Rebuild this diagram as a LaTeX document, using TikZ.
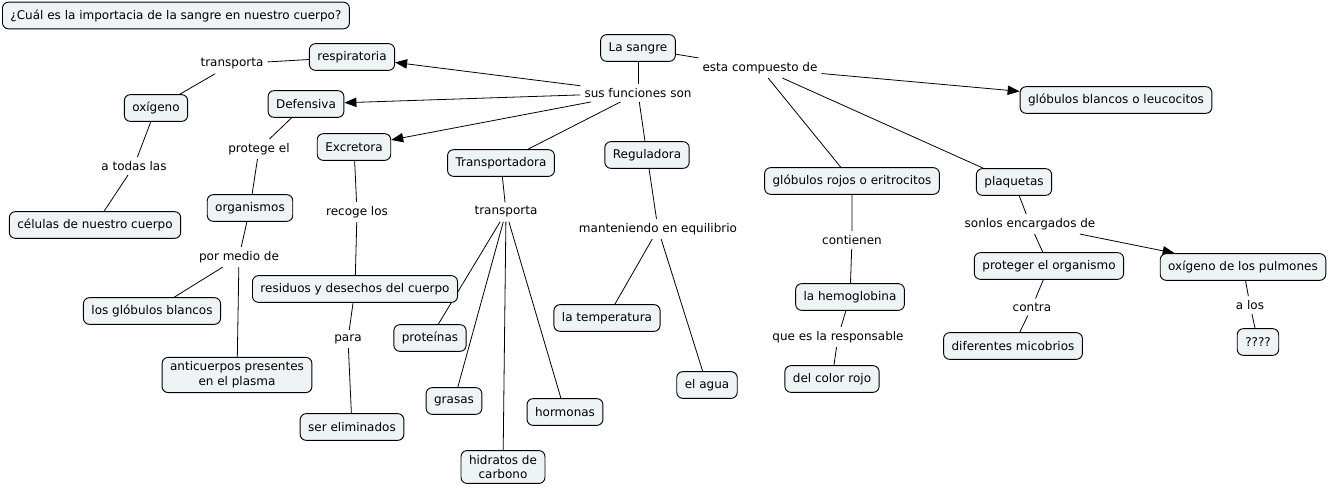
\documentclass[tikz,border=0pt]{standalone}
\usepackage{fontspec}
\setmainfont{DejaVu Sans}
\usetikzlibrary{arrows.meta,backgrounds}
\definecolor{cmapfill}{RGB}{238,244,246}
\begin{document}
\begin{tikzpicture}[x=0.75pt,y=-0.75pt, font=\fontsize{9}{11}\selectfont, line join=round, line cap=round]
	\tikzset{concept/.style={draw, fill=cmapfill, rounded corners=4.5pt, line width=0.7pt, minimum height=20pt, inner xsep=6pt, align=center},
		linking/.style={inner sep=3pt},
		link/.style={line width=0.6pt},
		tip/.style={link,-{Triangle[length=9pt,width=7pt]}}}
	\useasboundingbox (0,0) rectangle (1329,490);
	% concepts
	\node[concept, anchor=west] (pregunta) at (2,15.5) {¿Cuál es la importacia de la sangre en nuestro cuerpo?};
	\node[concept] (sangre) at (638,48) {La sangre};
	\node[concept] (resp) at (352,57) {respiratoria};
	\node[concept] (defen) at (306,104) {Defensiva};
	\node[concept] (excre) at (354,147) {Excretora};
	\node[concept] (transp) at (501,163) {Transportadora};
	\node[concept] (regul) at (647,155) {Reguladora};
	\node[concept] (oxig) at (156,108) {oxígeno};
	\node[concept] (celulas) at (95,225) {células de nuestro cuerpo};
	\node[concept] (organ) at (250,208) {organismos};
	\node[concept] (globlan) at (152,311) {los glóbulos blancos};
	\node[concept] (anticu) at (237,375) {anticuerpos presentes\\en el plasma};
	\node[concept] (residuos) at (355,289) {residuos y desechos del cuerpo};
	\node[concept] (elimin) at (352,427) {ser eliminados};
	\node[concept] (prot) at (430,338) {proteínas};
	\node[concept] (grasas) at (454,401) {grasas};
	\node[concept] (hidrat) at (503,467) {hidratos de\\carbono};
	\node[concept] (hormon) at (565,412) {hormonas};
	\node[concept] (temp) at (607,318) {la temperatura};
	\node[concept] (agua) at (707,385) {el agua};
	\node[concept] (leuco) at (1116,100) {glóbulos blancos o leucocitos};
	\node[concept] (eritro) at (852,181) {glóbulos rojos o eritrocitos};
	\node[concept] (plaq) at (1014,182) {plaquetas};
	\node[concept] (hemo) at (850,297) {la hemoglobina};
	\node[concept] (rojo) at (832,379) {del color rojo};
	\node[concept] (proteger) at (1049,266) {proteger el organismo};
	\node[concept] (pulmon) at (1243,267) {oxígeno de los pulmones};
	\node[concept] (microb) at (1013,346) {diferentes micobrios};
	\node[concept] (interrog) at (1258,342) {????};
	% linking phrases
	\node[linking] (funciones) at (638,93) {sus funciones son};
	\node[linking] (compuesto) at (760,68) {esta compuesto de};
	\node[linking] (transporta) at (232,64) {transporta};
	\node[linking] (todas) at (134,166) {a todas las};
	\node[linking] (protege) at (259,149) {protege el};
	\node[linking] (medio) at (239,257) {por medio de};
	\node[linking] (recoge) at (357,212) {recoge los};
	\node[linking] (para) at (348,339) {para};
	\node[linking] (transporta2) at (506,212) {transporta};
	\node[linking] (mantiene) at (658,229) {manteniendo en equilibrio};
	\node[linking] (contienen) at (852,240) {contienen};
	\node[linking] (responsable) at (838,337) {que es la responsable};
	\node[linking] (encargados) at (1030,224) {sonlos encargados de};
	\node[linking] (contra) at (1032,307) {contra};
	\node[linking] (alos) at (1250,305) {a los};
	% connectors
	\begin{pgfonlayer}{background}
		\draw[link] (sangre) -- (funciones);
		\draw[tip] (funciones) -- (resp);
		\draw[tip] (funciones) -- (defen);
		\draw[tip] (funciones) -- (excre);
		\draw[link] (funciones) -- (transp);
		\draw[link] (funciones) -- (regul);
		\draw[link] (sangre) -- (compuesto);
		\draw[tip] (compuesto) -- (leuco);
		\draw[link] (compuesto) -- (eritro);
		\draw[link] (compuesto) -- (plaq);
		\draw[link] (resp) -- (transporta) -- (oxig) -- (todas) -- (celulas);
		\draw[link] (defen) -- (protege) -- (organ) -- (medio) -- (globlan);
		\draw[link] (medio) -- (anticu);
		\draw[link] (excre) -- (recoge) -- (residuos) -- (para) -- (elimin);
		\draw[link] (transp) -- (transporta2);
		\foreach \c in {prot,grasas,hidrat,hormon}
			\draw[link] (transporta2) -- (\c);
		\draw[link] (regul) -- (mantiene) -- (temp);
		\draw[link] (mantiene) -- (agua);
		\draw[link] (eritro) -- (contienen) -- (hemo) -- (responsable) -- (rojo);
		\draw[link] (plaq) -- (encargados) -- (proteger);
		\draw[tip] (encargados) -- (pulmon);
		\draw[link] (proteger) -- (contra) -- (microb);
		\draw[link] (pulmon) -- (alos) -- (interrog);
	\end{pgfonlayer}
\end{tikzpicture}
\end{document}
